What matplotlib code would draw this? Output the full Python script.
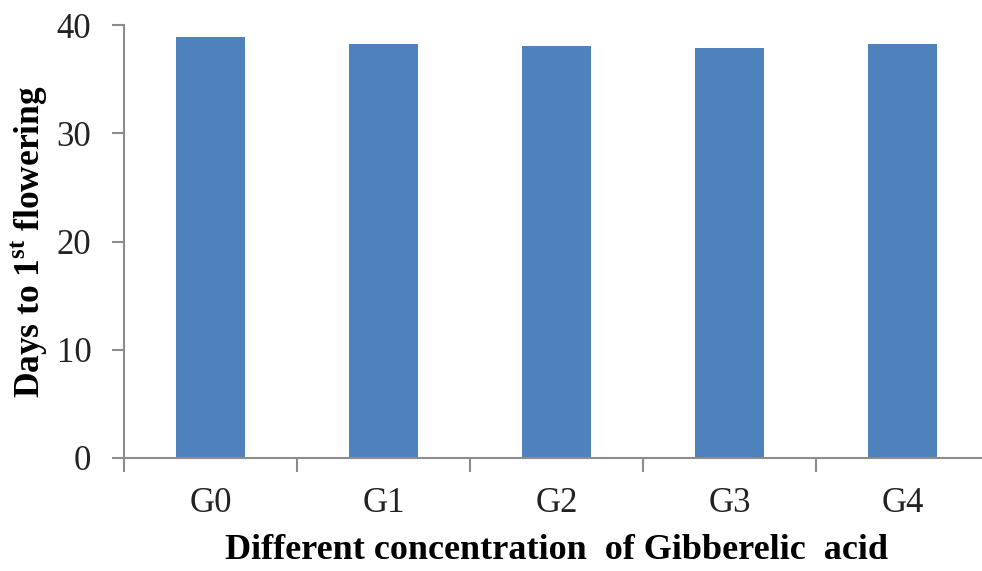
import numpy as np
import matplotlib
matplotlib.use('Agg')
import matplotlib.pyplot as plt

plt.rcParams['font.family'] = ['Liberation Serif', 'DejaVu Serif']
plt.rcParams['mathtext.fontset'] = 'custom'
plt.rcParams['mathtext.bf'] = 'Liberation Serif:bold'
plt.rcParams['mathtext.rm'] = 'Liberation Serif'

# GA treatments and days to first flowering
treatments = ['G0', 'G1', 'G2', 'G3', 'G4']
days_to_flower = [38.9, 38.3, 38.1, 37.9, 38.3]
y_ticks = [0, 10, 20, 30, 40]

fig = plt.figure(figsize=(9.82, 5.71), dpi=100)
ax = fig.add_axes([0.1263, 0.198, 0.881, 0.758])

x = np.arange(len(treatments))
ax.bar(x, days_to_flower, width=0.4, color='#4F81BD', zorder=2)

ax.set_xlim(-0.5, len(treatments) - 0.5)
ax.set_ylim(0, 40)
ax.set_yticks(y_ticks)
ax.set_xticks(x)
ax.set_xticklabels(treatments)
# tick marks sit between categories
ax.set_xticks(np.arange(len(treatments) + 1) - 0.5, minor=True)

axis_grey = '#8c8c8c'
for side in ['top', 'right']:
    ax.spines[side].set_visible(False)
for side in ['left', 'bottom']:
    ax.spines[side].set_color(axis_grey)
    ax.spines[side].set_linewidth(1.5)

ax.tick_params(axis='x', which='major', length=0, pad=21, labelsize=25, colors='#222222')
ax.tick_params(axis='x', which='minor', length=10, width=1.5, color=axis_grey, direction='out')
ax.tick_params(axis='y', length=8.5, width=1.5, color=axis_grey, pad=15, labelsize=25,
               labelcolor='#222222')

ax.set_xlabel('Different concentration  of Gibberelic  acid', fontsize=26, fontweight='bold',
              labelpad=10)
ax.set_ylabel('Days to 1$^{\\mathbf{st}}$ flowering', fontsize=25.5, fontweight='bold', labelpad=5)

fig.savefig('out.png', dpi=100)
